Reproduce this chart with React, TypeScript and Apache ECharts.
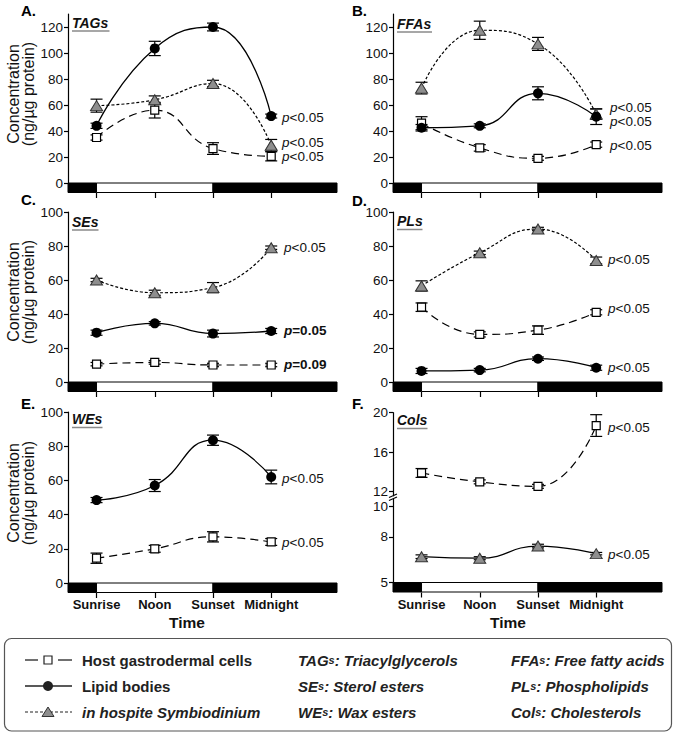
import React, { useEffect, useRef } from 'react';
import * as echarts from 'echarts';

const FONT = '"Liberation Sans", Arial, Helvetica, sans-serif';

// ---- categories / axis ranges ----
const timeLabels = ['Sunrise', 'Noon', 'Sunset', 'Midnight'];
const timePos = [0, 1, 2, 3];
const X_MIN = -0.49;
const X_MAX = 4.13;
// light regime bar: dark before sunrise and after sunset
const lightPeriods = [
  { from: X_MIN, to: 0, dark: 1 },
  { from: 0, to: 2, dark: 0 },
  { from: 2, to: X_MAX, dark: 1 },
];

// ---- tick labels ----
const ticks120 = [0, 20, 40, 60, 80, 100, 120];
const ticks100 = [0, 20, 40, 60, 80, 100];
const ticksColUpper = [12, 16, 20];
const ticksColLower = [5, 8, 10];

// ---- A. TAGs ----
const tagHost = [35, 56, 26.5, 20.5];
const tagHostErr = [2, 6, 4.5, 3.5];
const tagLipid = [44, 103.5, 120, 51.5];
const tagLipidErr = [2, 5.5, 3, 1.5];
const tagSym = [59.5, 64, 76.5, 29];
const tagSymErr = [5, 3, 2.5, 4.5];
// ---- B. FFAs ----
const ffaHost = [46, 27, 19, 29.5];
const ffaHostErr = [5, 2.5, 1.5, 2];
const ffaLipid = [42.5, 44, 69, 51];
const ffaLipidErr = [2.5, 1.5, 5, 6];
const ffaSym = [73, 117.5, 107, 53];
const ffaSymErr = [4.5, 7, 5, 4];
// ---- C. SEs ----
const seHost = [10.5, 11.5, 10, 10];
const seHostErr = [1, 1, 1, 1];
const seLipid = [29, 34.5, 28.5, 30];
const seLipidErr = [1.5, 1, 2, 1.5];
const seSym = [60, 52.5, 55.5, 79];
const seSymErr = [1, 1.5, 3, 1];
// ---- D. PLs ----
const plHost = [44, 28, 30.5, 41];
const plHostErr = [2.5, 1.5, 2.5, 1.5];
const plLipid = [6.5, 7, 13.7, 8.4];
const plLipidErr = [1.5, 1, 1, 1.5];
const plSym = [56.5, 76, 90, 71.5];
const plSymErr = [3, 1, 1, 2];
// ---- E. WEs ----
const weHost = [14.5, 20, 27, 24];
const weHostErr = [3, 2, 3, 2];
const weLipid = [48.5, 57, 83.5, 62];
const weLipidErr = [1.5, 3.5, 3, 4];
// ---- F. Cols ----
const colHost = [13.9, 13.0, 12.55, 18.7];
const colHostErr = [0.45, 0.2, 0.2, 1.1];
const colSym = [6.7, 6.6, 7.4, 6.9];
const colSymErr = [0.12, 0.1, 0.12, 0.08];

// grids: 0 A, 1 B, 2 C, 3 D, 4 E, 5 F upper, 6 F lower
const grids = [
  { left: 68, top: 14, width: 269, height: 169 },
  { left: 393, top: 14, width: 269, height: 169 },
  { left: 68, top: 212, width: 269, height: 170 },
  { left: 393, top: 212, width: 269, height: 170 },
  { left: 68, top: 412, width: 269, height: 171 },
  { left: 393, top: 412.7, width: 269, height: 83 },
  { left: 393, top: 499, width: 269, height: 83.5 },
];
const yRanges = [
  { min: 0, max: 130, ticks: ticks120 },
  { min: 0, max: 130, ticks: ticks120 },
  { min: 0, max: 100, ticks: ticks100 },
  { min: 0, max: 100, ticks: ticks100 },
  { min: 0, max: 100, ticks: ticks100 },
  { min: 11.6, max: 20, ticks: ticksColUpper },
  { min: 5, max: 10.5, ticks: ticksColLower },
];

const styles: any = {
  host: {
    symbol: 'rect',
    symbolSize: 8,
    itemStyle: { color: '#fff', borderColor: '#000', borderWidth: 1.2 },
    lineStyle: { color: '#000', width: 1.2, type: [8, 5] },
  },
  lipid: {
    symbol: 'circle',
    symbolSize: 10,
    itemStyle: { color: '#000', borderColor: '#000', borderWidth: 0 },
    lineStyle: { color: '#000', width: 1.3, type: 'solid' },
  },
  sym: {
    symbol: 'triangle',
    symbolSize: [12, 10],
    itemStyle: { color: '#8e8e8e', borderColor: '#333', borderWidth: 1 },
    lineStyle: { color: '#000', width: 1.2, type: [3, 2] },
  },
};

const renderErr = (params: any, api: any) => {
  const x = api.value(0);
  const y = api.value(1);
  const e = api.value(2);
  const t = api.coord([x, y + e]);
  const b = api.coord([x, y - e]);
  const hw = 6;
  const st = { stroke: '#000', lineWidth: 1.2 };
  return {
    type: 'group',
    children: [
      { type: 'line', shape: { x1: t[0], y1: t[1], x2: b[0], y2: b[1] }, style: st },
      { type: 'line', shape: { x1: t[0] - hw, y1: t[1], x2: t[0] + hw, y2: t[1] }, style: st },
      { type: 'line', shape: { x1: b[0] - hw, y1: b[1], x2: b[0] + hw, y2: b[1] }, style: st },
    ],
  };
};

function errSeries(gi: number, values: number[], errs: number[]) {
  return {
    type: 'custom',
    xAxisIndex: gi,
    yAxisIndex: gi,
    silent: true,
    data: values.map((v, i) => [timePos[i], v, errs[i]]),
    encode: { x: 0, y: 1 },
    renderItem: renderErr,
  };
}

function lineSeries(gi: number, values: number[], kind: string, lineType?: any) {
  const s = styles[kind];
  return {
    type: 'line',
    xAxisIndex: gi,
    yAxisIndex: gi,
    silent: true,
    smooth: 0.5,
    showAllSymbol: true,
    symbol: s.symbol,
    symbolSize: s.symbolSize,
    itemStyle: s.itemStyle,
    lineStyle: lineType ? { ...s.lineStyle, type: lineType } : s.lineStyle,
    data: values.map((v, i) => [timePos[i], v]),
  };
}

function barSeries(gi: number) {
  const y0 = yRanges[gi].min;
  return {
    type: 'custom',
    xAxisIndex: gi,
    yAxisIndex: gi,
    silent: true,
    clip: false,
    data: lightPeriods.map((p) => [p.from, p.to, p.dark, y0]),
    encode: { x: [0, 1], y: 3 },
    renderItem: (params: any, api: any) => {
      const a = api.coord([api.value(0), api.value(3)]);
      const b = api.coord([api.value(1), api.value(3)]);
      return {
        type: 'rect',
        shape: { x: a[0], y: a[1], width: b[0] - a[0], height: 9.5 },
        style: { fill: api.value(2) ? '#000' : '#fff', stroke: '#000', lineWidth: 1 },
      };
    },
  };
}

function pLabel(x: number, y: number, rest: string, bold = false) {
  const w = bold ? 'bold' : 'normal';
  return {
    type: 'text',
    x,
    y,
    style: {
      text: '{i|p}{n|' + rest + '}',
      verticalAlign: 'middle',
      rich: {
        i: { fontStyle: 'italic', fontWeight: w, fontSize: 13.5, lineHeight: 14, fontFamily: FONT, fill: '#111' },
        n: { fontWeight: w, fontSize: 13.5, lineHeight: 14, fontFamily: FONT, fill: '#111' },
      },
    },
  };
}

function title(x: number, y: number, txt: string, w: number) {
  return [
    {
      type: 'text',
      x,
      y,
      style: { text: txt, fontSize: 14, fontWeight: 'bold', fontStyle: 'italic', fontFamily: FONT, fill: '#111', verticalAlign: 'middle' },
    },
    { type: 'line', shape: { x1: x, y1: y + 8.5, x2: x + w, y2: y + 8.5 }, style: { stroke: '#8a8a8a', lineWidth: 1.5 } },
  ];
}

function letter(x: number, y: number, txt: string) {
  return {
    type: 'text',
    x,
    y,
    style: { text: txt, fontSize: 15, fontWeight: 'bold', fontFamily: FONT, fill: '#000', verticalAlign: 'middle' },
  };
}

function yTitle(cy: number) {
  return {
    type: 'text',
    x: 20.5,
    y: cy,
    rotation: Math.PI / 2,
    style: {
      text: 'Concentration\n(ng/µg protein)',
      fontSize: 16,
      lineHeight: 15,
      fontFamily: FONT,
      fill: '#111',
      align: 'center',
      verticalAlign: 'middle',
    },
  };
}

function legendText(x: number, y: number, parts: [string, boolean][], italic: boolean) {
  let text = '';
  parts.forEach(([t, small]) => {
    text += (small ? '{b|' : '{a|') + t + '}';
  });
  const base = { fontWeight: 'bold', fontStyle: italic ? 'italic' : 'normal', fontFamily: FONT, fill: '#222' };
  return {
    type: 'text',
    x,
    y,
    style: {
      text,
      verticalAlign: 'middle',
      rich: { a: { ...base, fontSize: 15 }, b: { ...base, fontSize: 11 } },
    },
  };
}

function buildOption() {
  const xAxis = grids.map((g, i) => ({
    gridIndex: i,
    type: 'value',
    min: X_MIN,
    max: X_MAX,
    show: i !== 5,
    offset: 10,
    axisLine: { show: false, onZero: false },
    axisTick: { show: true, length: 5, customValues: timePos, lineStyle: { color: '#000', width: 1.2 } },
    axisLabel: {
      show: i === 4 || i === 6,
      customValues: timePos,
      formatter: (v: number) => timeLabels[Math.round(v)] || '',
      fontSize: 13,
      fontWeight: 'bold',
      fontFamily: FONT,
      color: '#111',
      margin: 5,
    },
    splitLine: { show: false },
  }));
  const yAxis = grids.map((g, i) => ({
    gridIndex: i,
    type: 'value',
    min: yRanges[i].min,
    max: yRanges[i].max,
    axisLine: { show: true, onZero: false, lineStyle: { color: '#000', width: 1.2 } },
    axisTick: { show: true, length: 4, customValues: yRanges[i].ticks, lineStyle: { color: '#000', width: 1.2 } },
    axisLabel: { customValues: yRanges[i].ticks, fontSize: 13.5, fontFamily: FONT, color: '#111', margin: 5 },
    splitLine: { show: false },
  }));

  const series: any[] = [];
  [0, 1, 2, 3, 4, 6].forEach((gi) => series.push(barSeries(gi)));
  const panels: [number, number[], number[], string, any?][] = [
    [0, tagHost, tagHostErr, 'host'],
    [0, tagSym, tagSymErr, 'sym'],
    [0, tagLipid, tagLipidErr, 'lipid'],
    [1, ffaHost, ffaHostErr, 'host'],
    [1, ffaSym, ffaSymErr, 'sym'],
    [1, ffaLipid, ffaLipidErr, 'lipid'],
    [2, seHost, seHostErr, 'host'],
    [2, seSym, seSymErr, 'sym'],
    [2, seLipid, seLipidErr, 'lipid'],
    [3, plHost, plHostErr, 'host'],
    [3, plSym, plSymErr, 'sym'],
    [3, plLipid, plLipidErr, 'lipid'],
    [4, weHost, weHostErr, 'host'],
    [4, weLipid, weLipidErr, 'lipid'],
    [5, colHost, colHostErr, 'host'],
    [6, colSym, colSymErr, 'sym', 'solid'],
  ];
  panels.forEach(([gi, v, e]) => series.push(errSeries(gi, v, e)));
  panels.forEach(([gi, v, , kind, lt]) => series.push(lineSeries(gi, v, kind, lt)));

  const graphic: any[] = [
    letter(21, 10, 'A.'),
    letter(352, 10, 'B.'),
    letter(21, 199.5, 'C.'),
    letter(352, 200, 'D.'),
    letter(21, 403, 'E.'),
    letter(352, 403, 'F.'),
    ...title(72, 22.5, 'TAGs', 37.5),
    ...title(397, 23.5, 'FFAs', 35),
    ...title(72, 221.5, 'SEs', 26.5),
    ...title(397, 221, 'PLs', 25.5),
    ...title(72, 419, 'WEs', 30.5),
    ...title(397, 420, 'Cols', 30.5),
    yTitle(94),
    yTitle(292),
    yTitle(493),
    pLabel(282, 117, '<0.05'),
    pLabel(282, 142, '<0.05'),
    pLabel(282, 156.5, '<0.05'),
    pLabel(610, 107, '<0.05'),
    pLabel(610, 121.5, '<0.05'),
    pLabel(610, 145, '<0.05'),
    pLabel(284, 247, '<0.05'),
    pLabel(284, 330, '=0.05', true),
    pLabel(284, 364, '=0.09', true),
    pLabel(608, 259, '<0.05'),
    pLabel(608, 308, '<0.05'),
    pLabel(608, 367, '<0.05'),
    pLabel(282, 478, '<0.05'),
    pLabel(282, 542, '<0.05'),
    pLabel(608, 427, '<0.05'),
    pLabel(608, 554, '<0.05'),
    {
      type: 'text', x: 187, y: 622,
      style: { text: 'Time', fontSize: 15.5, fontWeight: 'bold', fontFamily: FONT, fill: '#111', align: 'center', verticalAlign: 'middle' },
    },
    {
      type: 'text', x: 508, y: 622,
      style: { text: 'Time', fontSize: 15.5, fontWeight: 'bold', fontFamily: FONT, fill: '#111', align: 'center', verticalAlign: 'middle' },
    },
    // axis break marks (F)
    { type: 'rect', shape: { x: 389, y: 495.7, width: 8, height: 3.3 }, style: { fill: '#fff' } },
    { type: 'line', shape: { x1: 389, y1: 497.5, x2: 397, y2: 494 }, style: { stroke: '#000', lineWidth: 1.1 } },
    { type: 'line', shape: { x1: 389, y1: 500.5, x2: 397, y2: 497 }, style: { stroke: '#000', lineWidth: 1.1 } },
    // legend box
    { type: 'rect', shape: { x: 4.5, y: 638.5, width: 667, height: 92.5, r: 7 }, style: { fill: '#fff', stroke: '#555', lineWidth: 1.2 } },
    // host
    { type: 'line', shape: { x1: 25, y1: 660, x2: 38, y2: 660 }, style: { stroke: '#222', lineWidth: 1.3 } },
    { type: 'line', shape: { x1: 58, y1: 660, x2: 72, y2: 660 }, style: { stroke: '#222', lineWidth: 1.3 } },
    { type: 'rect', shape: { x: 44, y: 656, width: 8, height: 8 }, style: { fill: '#fff', stroke: '#222', lineWidth: 1.2 } },
    // lipid
    { type: 'line', shape: { x1: 25, y1: 686, x2: 72, y2: 686 }, style: { stroke: '#222', lineWidth: 1.4 } },
    { type: 'circle', shape: { cx: 48, cy: 686, r: 5 }, style: { fill: '#222' } },
    // sym
    { type: 'line', shape: { x1: 25, y1: 712, x2: 72, y2: 712 }, style: { stroke: '#222', lineWidth: 1.1, lineDash: [3, 2] } },
    { type: 'polygon', shape: { points: [[42, 716.5], [54, 716.5], [48, 707]] }, style: { fill: '#8e8e8e', stroke: '#333', lineWidth: 1 } },
    legendText(82, 660, [['Host gastrodermal cells', false]], false),
    legendText(82, 686, [['Lipid bodies', false]], false),
    legendText(82, 712, [['in hospite Symbiodinium', false]], true),
    legendText(298, 660, [['TAG', false], ['s', true], [': Triacylglycerols', false]], true),
    legendText(298, 686, [['SE', false], ['s', true], [': Sterol esters', false]], true),
    legendText(298, 712, [['WE', false], ['s', true], [': Wax esters', false]], true),
    legendText(511, 660, [['FFA', false], ['s', true], [': Free fatty acids', false]], true),
    legendText(511, 686, [['PL', false], ['s', true], [': Phospholipids', false]], true),
    legendText(511, 712, [['Col', false], ['s', true], [': Cholesterols', false]], true),
  ];

  return {
    animation: false,
    backgroundColor: '#fff',
    grid: grids.map((g) => ({ ...g, containLabel: false })),
    xAxis,
    yAxis,
    series,
    graphic: { elements: graphic },
  };
}

export default function App() {
  const ref = useRef<HTMLDivElement>(null);
  useEffect(() => {
    if (!ref.current) return;
    const chart = echarts.init(ref.current, undefined, { renderer: 'svg' });
    chart.setOption(buildOption() as any);
    return () => chart.dispose();
  }, []);
  return (
    <div
      ref={ref}
      style={{ position: 'fixed', left: 0, top: 0, width: 675, height: 734, background: '#fff' }}
    />
  );
}
